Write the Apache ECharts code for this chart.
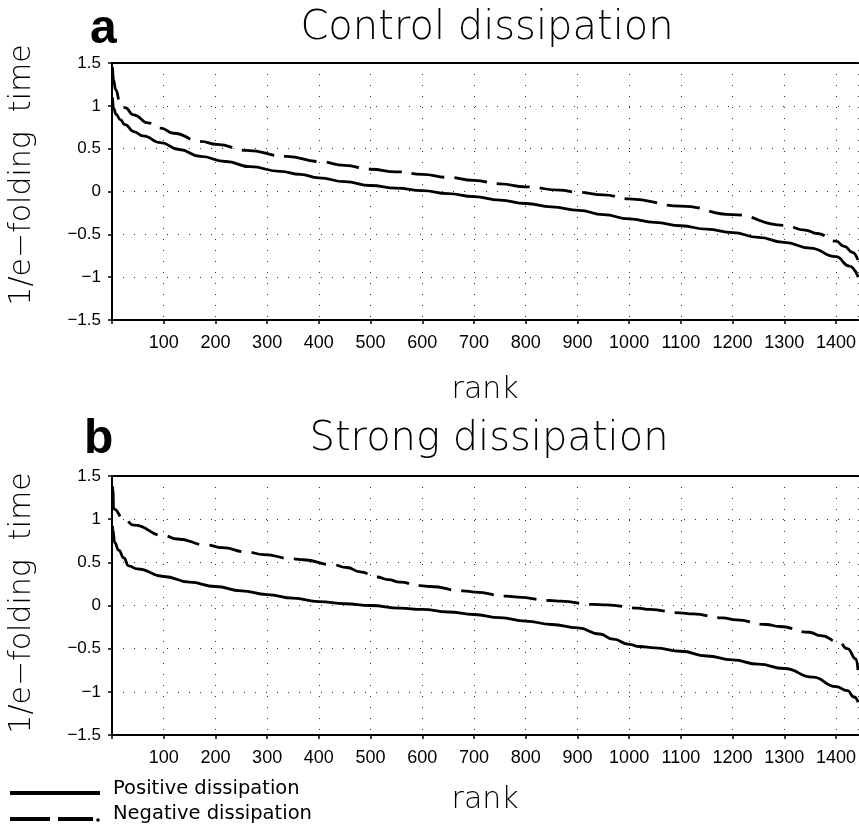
<!DOCTYPE html>
<html>
<head>
<meta charset="utf-8">
<script src="https://cdn.jsdelivr.net/npm/echarts@6/dist/echarts.min.js"></script>
<style>
html,body{margin:0;padding:0;background:#fff;}
#chart{width:859px;height:826px;}
</style>
</head>
<body>
<div id="chart"></div>
<script>
// ---- Data ----
const titles = ['Control dissipation', 'Strong dissipation'];
const panelLetters = ['a', 'b'];
const yTicks = [-1.5, -1, -0.5, 0, 0.5, 1, 1.5];
const xTickStep = 100;

// Panel a: control dissipation
const aPosRank = [1,3,8,16,25,42,60,94,130,171,220,267,325,364,400,450,500,550,600,650,700,750,800,850,903,950,1000,1050,1100,1150,1200,1250,1300,1350,1400,1426,1443];
const aPosVal  = [1.1,0.97,0.9,0.84,0.78,0.70,0.65,0.57,0.49,0.41,0.35,0.29,0.236,0.20,0.16,0.115,0.07,0.04,0.01,-0.025,-0.06,-0.10,-0.14,-0.18,-0.22,-0.27,-0.32,-0.36,-0.40,-0.44,-0.48,-0.535,-0.595,-0.66,-0.76,-0.87,-1.0];
const aNegRank = [1,3,7,16,25,42,70,94,119,171,203,260,338,400,450,500,550,600,650,700,750,800,866,903,950,1000,1100,1200,1300,1340,1364,1400,1416,1432,1443];
const aNegVal  = [1.45,1.3,1.19,1.03,0.98,0.895,0.80,0.74,0.68,0.585,0.55,0.48,0.41,0.35,0.305,0.26,0.23,0.20,0.165,0.13,0.09,0.055,0.015,-0.01,-0.04,-0.085,-0.17,-0.27,-0.395,-0.45,-0.49,-0.58,-0.64,-0.71,-0.81];

// Panel b: strong dissipation
const bPosRank = [1,2,5,13,23,32,49,100,150,200,250,300,350,400,450,500,557,600,650,700,750,800,850,901,943,969,1000,1020,1050,1100,1150,1200,1250,1300,1355,1400,1422,1435,1443];
const bPosVal  = [0.92,0.87,0.73,0.64,0.55,0.46,0.425,0.336,0.27,0.22,0.17,0.127,0.085,0.046,0.02,0.0,-0.03,-0.046,-0.075,-0.104,-0.14,-0.18,-0.22,-0.26,-0.33,-0.39,-0.45,-0.475,-0.49,-0.53,-0.585,-0.63,-0.68,-0.73,-0.83,-0.94,-0.985,-1.06,-1.12];
const bNegRank = [1,2,3,23,42,100,126,184,213,261,293,351,370,428,454,480,512,534,557,596,615,679,702,763,785,847,868,930,956,1017,1040,1097,1123,1181,1207,1265,1291,1348,1371,1406,1422,1439,1443];
const bNegVal  = [1.38,1.33,1.12,1.0,0.93,0.81,0.77,0.70,0.67,0.62,0.59,0.54,0.53,0.47,0.44,0.39,0.33,0.30,0.27,0.23,0.22,0.17,0.155,0.108,0.097,0.058,0.05,0.012,0.008,-0.03,-0.046,-0.085,-0.097,-0.143,-0.166,-0.22,-0.243,-0.31,-0.35,-0.425,-0.50,-0.62,-0.78];

const legendNames = ['Positive dissipation', 'Negative dissipation'];

// ---- Build option ----
const zip = (xs, ys) => xs.map((x, i) => [x, ys[i]]);
const LIGHT = '"DejaVu Sans"';
const grids = [
  {left: 112, top: 63, width: 747, height: 257},
  {left: 112, top: 476, width: 747, height: 259}
];
const xMin = 0, xMax = 1443;

function bottomX(gi, gap) {
  return {
    type: 'value', gridIndex: gi, min: xMin, max: xMax, interval: xTickStep,
    axisLine: {show: true, onZero: false, lineStyle: {color: '#000', width: 2}},
    axisTick: {show: true, length: 4, lineStyle: {color: '#000', width: 1.5}},
    axisLabel: {
      formatter: v => (v > 0 && v % xTickStep === 0) ? String(v) : '',
      fontSize: 18, fontFamily: 'Liberation Sans', color: '#000', margin: 14,
      showMaxLabel: false
    },
    splitLine: {show: true, lineStyle: {type: [1, 10], color: '#333', width: 1}},
    name: 'rank', nameLocation: 'middle', nameGap: gap,
    nameTextStyle: {fontSize: 30, fontFamily: LIGHT, fontWeight: 200, color: '#000'}
  };
}
function topX(gi) {
  return {
    type: 'value', gridIndex: gi, position: 'top', min: xMin, max: xMax,
    axisLine: {show: true, onZero: false, lineStyle: {color: '#000', width: 2}},
    axisTick: {show: false}, axisLabel: {show: false}, splitLine: {show: false}
  };
}
function leftY(gi) {
  return {
    type: 'value', gridIndex: gi, min: yTicks[0], max: yTicks[yTicks.length - 1], interval: 0.5,
    axisLine: {show: true, onZero: false, lineStyle: {color: '#000', width: 2}},
    axisTick: {show: true, length: 4, lineStyle: {color: '#000', width: 1.5}},
    axisLabel: {
      formatter: v => String(v).replace('-', '\u2212'),
      fontSize: 17, fontFamily: 'Liberation Sans', color: '#000', margin: 11
    },
    splitLine: {show: true, lineStyle: {type: [1, 10], color: '#333', width: 1}}
  };
}
function lineSeries(name, data, xi, yi, dashed) {
  return {
    name: name, type: 'line', data: data, xAxisIndex: xi, yAxisIndex: yi,
    showSymbol: false, symbol: 'none', smooth: 0.5, smoothMonotone: 'x',
    lineStyle: {color: '#000', width: 2.8, type: dashed ? [33, 10] : 'solid'},
    z: 5
  };
}

const option = {
  animation: false,
  backgroundColor: '#fff',
  grid: grids,
  title: [
    {text: titles[0], left: 482, top: 4, textAlign: 'center',
     textStyle: {fontSize: 40, fontFamily: LIGHT, fontWeight: 200, color: '#000'}},
    {text: titles[1], left: 484, top: 415, textAlign: 'center',
     textStyle: {fontSize: 40, fontFamily: LIGHT, fontWeight: 200, color: '#000'}},
    {text: panelLetters[0], left: 85, top: 1,
     textStyle: {fontSize: 48, fontFamily: 'Liberation Sans', fontWeight: 'bold', color: '#000'}},
    {text: panelLetters[1], left: 79, top: 411,
     textStyle: {fontSize: 48, fontFamily: 'Liberation Sans', fontWeight: 'bold', color: '#000'}}
  ],
  xAxis: [bottomX(0, 55), bottomX(1, 50), topX(0), topX(1)],
  yAxis: [leftY(0), leftY(1)],
  series: [
    lineSeries(legendNames[0], zip(aPosRank, aPosVal), 0, 0, false),
    lineSeries(legendNames[1], zip(aNegRank, aNegVal), 0, 0, true),
    lineSeries(legendNames[0], zip(bPosRank, bPosVal), 1, 1, false),
    lineSeries(legendNames[1], zip(bNegRank, bNegVal), 1, 1, true)
  ],
  graphic: [
    {type: 'text', x: 22, y: 175, rotation: Math.PI / 2,
     style: {text: '1/e\u2212folding  time', fontSize: 30, fontFamily: LIGHT, fontWeight: 200,
             fill: '#000', align: 'center', verticalAlign: 'middle'}},
    {type: 'text', x: 22, y: 603, rotation: Math.PI / 2,
     style: {text: '1/e\u2212folding  time', fontSize: 30, fontFamily: LIGHT, fontWeight: 200,
             fill: '#000', align: 'center', verticalAlign: 'middle'}},
    // legend
    {type: 'line', shape: {x1: 10, y1: 793, x2: 100, y2: 793}, style: {stroke: '#000', lineWidth: 4}},
    {type: 'line', shape: {x1: 10, y1: 819, x2: 50, y2: 819}, style: {stroke: '#000', lineWidth: 4}},
    {type: 'line', shape: {x1: 58, y1: 819, x2: 93, y2: 819}, style: {stroke: '#000', lineWidth: 4}},
    {type: 'circle', shape: {cx: 98, cy: 820, r: 1.8}, style: {fill: '#000'}},
    {type: 'text', x: 113, y: 789,
     style: {text: legendNames[0], fontSize: 19.5, fontFamily: LIGHT, fill: '#000', align: 'left', verticalAlign: 'middle'}},
    {type: 'text', x: 113, y: 814,
     style: {text: legendNames[1], fontSize: 19.5, fontFamily: LIGHT, fill: '#000', align: 'left', verticalAlign: 'middle'}}
  ]
};

const chart = echarts.init(document.getElementById('chart'), null, {renderer: 'canvas'});
chart.setOption(option);
</script>
</body>
</html>
